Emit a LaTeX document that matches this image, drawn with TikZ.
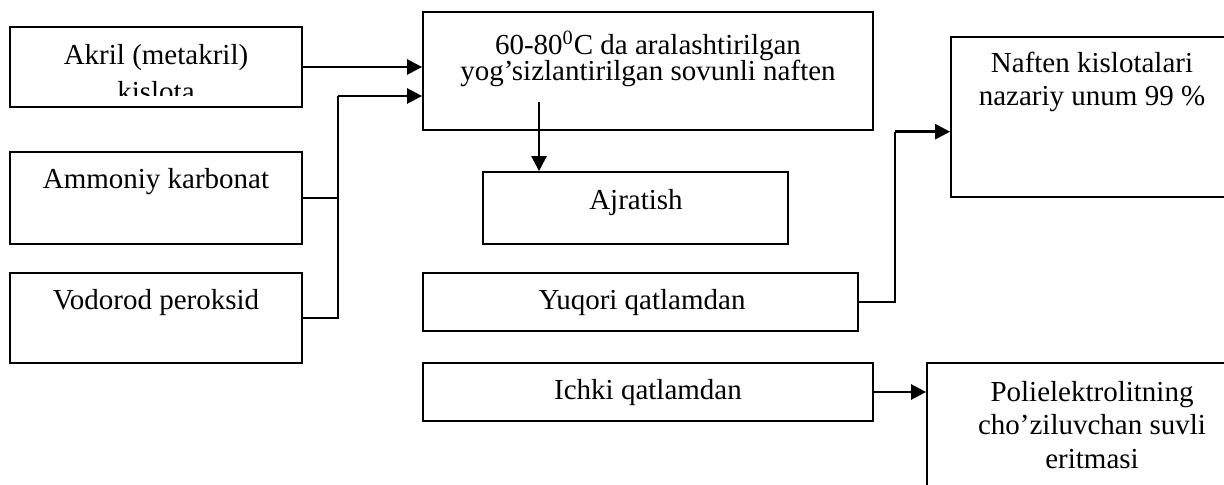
\documentclass[tikz,border=0pt]{standalone}
\usepackage{fontspec}
\setmainfont{Liberation Serif}
\usetikzlibrary{arrows.meta}
\tikzset{
  box/.style={draw=black, line width=0.9pt, rectangle, inner sep=0pt},
  txt/.style={inner sep=0pt, anchor=base, font=\fontsize{14.5}{17}\selectfont},
  arr/.style={line width=1.25pt, -{Triangle[length=7.5pt,width=7.5pt]}},
  ln/.style={line width=0.9pt},
}
\begin{document}
\begin{tikzpicture}[x=0.5pt,y=-0.5pt]
\useasboundingbox (0,0) rectangle (1224,485);
\fill[white] (0,0) rectangle (1224,485);
% boxes
\node[box, minimum width=146pt, minimum height=40pt] (akril) at (156,67) {};
\node[box, minimum width=225pt, minimum height=59pt] (mix) at (648,71) {};
\node[box, minimum width=141pt, minimum height=80pt] (naften) at (1092,116.7) {};
\node[box, minimum width=146pt, minimum height=46pt] (ammoniy) at (156,198) {};
\node[box, minimum width=146pt, minimum height=45pt] (vodorod) at (156,318) {};
\node[box, minimum width=152.5pt, minimum height=36pt] (ajratish) at (635.5,208) {};
\node[box, minimum width=217.5pt, minimum height=29pt] (yuqori) at (640.5,302) {};
\node[box, minimum width=225pt, minimum height=29pt] (ichki) at (648,392) {};
\node[box, minimum width=165pt, minimum height=78.5pt] (poli) at (1092,441.5) {};
% texts
\node[txt] (akrilA) at (156,65) {Akril (metakril)};
\begin{scope}
\clip (10,27) rectangle (302,96);
\node[txt] (akrilB) at (156,102) {kislota};
\end{scope}
\node[txt] (mixA) at (648,55) {60-80\textsuperscript{0}C da aralashtirilgan};
\node[txt] (mixB) at (648,80.5) {yog’sizlantirilgan sovunli naften};
\node[txt] (naftenA) at (1092,73) {Naften kislotalari};
\node[txt] (naftenB) at (1092,106) {nazariy unum 99 \%};
\node[txt] (ammoniyT) at (156,189) {Ammoniy karbonat};
\node[txt] (vodorodT) at (156,310) {Vodorod peroksid};
\node[txt] (ajratishT) at (636,210) {Ajratish};
\node[txt] (yuqoriT) at (642,310) {Yuqori qatlamdan};
\node[txt] (ichkiT) at (648,400) {Ichki qatlamdan};
\node[txt] (poliA) at (1092,401.5) {Polielektrolitning};
\node[txt] (poliB) at (1092,434.5) {cho’ziluvchan suvli};
\node[txt] (poliC) at (1092,468) {eritmasi};
% helper coordinates
\coordinate (jx) at (338,96);
\coordinate (down) at (539,102);
\coordinate (ux) at (895,131.7);
% connectors
\draw[arr] (akril.east) -- (akril.east -| mix.west);
\draw[ln] (ammoniy.east) -- (jx |- ammoniy.east);
\draw[ln] (vodorod.east) -- (jx |- vodorod.east) -- (jx);
\draw[arr] (jx) -- (jx -| mix.west);
\draw[arr] (down) -- (down |- ajratish.north);
\draw[ln] (yuqori.east) -- (ux |- yuqori.east) -- (ux);
\draw[arr] (ux) -- (ux -| naften.west);
\draw[arr] (ichki.east) -- (ichki.east -| poli.west);
\end{tikzpicture}
\end{document}
